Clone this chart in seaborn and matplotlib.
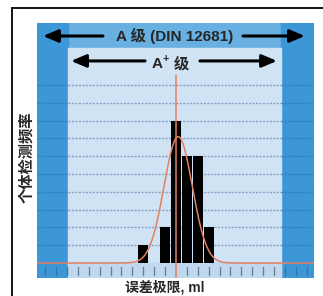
import numpy as np
import pandas as pd
import matplotlib
matplotlib.use('Agg')
import matplotlib.pyplot as plt
from matplotlib.patches import Rectangle
import seaborn as sns

# dados
bin_pos = [-3, -2, -1, 0, 1, 2, 3]
counts = [1, 0, 2, 8, 6, 6, 2]
fit_mean, fit_sd, fit_peak = 0.2, 1.3, 7.1
grid_levels = list(range(1, 11))
tick_pos = [i for i in range(-9, 10) if i != 0]

title_a = 'A 级 (DIN 12681)'
title_ap = r'$\mathbf{A}^{\mathbf{+}}$'
title_ap_cjk = '级'
ylabel = '个体检测频率'
xlabel = '误差极限, ml'

sns.set_style('white')
plt.rcParams['font.family'] = ['Liberation Sans', 'Noto Sans CJK SC']
plt.rcParams['mathtext.fontset'] = 'custom'
plt.rcParams['mathtext.rm'] = 'Liberation Sans:bold'
plt.rcParams['mathtext.bf'] = 'Liberation Sans:bold'

W, H = 323, 296
fig = plt.figure(figsize=(W / 100, H / 100), dpi=100)
# area azul: x 37..314 px, y 23..278 px
ax = fig.add_axes([37 / W, 1 - 278 / H, (314 - 37) / W, (278 - 23) / H])
xmin, xmax = -12.75, 12.66
ymin, ymax = -0.84, 13.48
ax.set_xlim(xmin, xmax)
ax.set_ylim(ymin, ymax)
ax.axis('off')

dark = '#3d96d5'
mid = '#69b0e2'
light = '#d0e3f5'
strip = '#c0d8ee'
in_l, in_r, in_top = -9.9, 9.6, 12.08

# fundos
ax.add_patch(Rectangle((xmin, ymin), xmax - xmin, ymax - ymin, color=mid, zorder=0))
ax.add_patch(Rectangle((xmin, ymin), in_l - xmin, ymax - ymin, color=dark, zorder=0.5))
ax.add_patch(Rectangle((in_r, ymin), xmax - in_r, ymax - ymin, color=dark, zorder=0.5))
ax.add_patch(Rectangle((in_l, ymin), in_r - in_l, in_top - ymin, color=light, zorder=0.6))
ax.add_patch(Rectangle((in_l, ymin), in_r - in_l, -ymin, color=strip, zorder=0.7))

# grade pontilhada
for g in grid_levels:
    ax.plot([in_l, in_r], [g, g], color='#84a2c4', lw=1, ls=(0, (1.5, 1.0)), zorder=1)
    ax.plot([xmin, in_l], [g, g], color='#2f7fbf', lw=1, ls=(0, (1.5, 1.0)), zorder=1)
    ax.plot([in_r, xmax], [g, g], color='#2f7fbf', lw=1, ls=(0, (1.5, 1.0)), zorder=1)

# marcas no eixo inferior
for t in tick_pos:
    ax.plot([t, t], [-0.65, -0.2], color='#6a7f96', lw=1, zorder=1)
for t in [-12, -11, -10, 10, 11, 12]:
    ax.plot([t, t], [-0.65, -0.2], color='#3575ad', lw=1, zorder=1)

# barras
sns.barplot(x=bin_pos, y=counts, native_scale=True, color='black', width=0.9,
            saturation=1, edgecolor='none', ax=ax, zorder=3)
ax.set_xlim(xmin, xmax)
ax.set_ylim(ymin, ymax)

# curva normal ajustada
xs = np.linspace(xmin, xmax, 400)
curve = pd.DataFrame({'x': xs, 'y': fit_peak * np.exp(-0.5 * ((xs - fit_mean) / fit_sd) ** 2)})
sns.lineplot(data=curve, x='x', y='y', color='#e3805f', lw=1.1, ax=ax, zorder=4)
ax.plot([0, 0], [ymin, 10.56], color='#e3805f', lw=1.1, zorder=4)
ax.set_xlim(xmin, xmax)
ax.set_ylim(ymin, ymax)

# setas e textos
arrow = dict(arrowstyle='-|>,head_length=0.9,head_width=0.38', color='black', lw=2.2,
             shrinkA=0, shrinkB=0)
ya = 12.75
ax.text(-0.1, ya, title_a, ha='center', va='center', fontsize=11, fontweight='bold', zorder=5)
ax.annotate('', xy=(-12.2, ya), xytext=(-6.7, ya), arrowprops=arrow, zorder=5)
ax.annotate('', xy=(11.83, ya), xytext=(6.15, ya), arrowprops=arrow, zorder=5)
yb = 11.35
ax.text(-0.55, yb - 0.4, title_ap, ha='right', va='baseline', fontsize=11, zorder=5)
ax.text(-0.2, yb - 0.4, title_ap_cjk, ha='left', va='baseline', fontsize=11, fontweight='bold', zorder=5)
ax.annotate('', xy=(-9.63, yb), xytext=(-2.84, yb), arrowprops=arrow, zorder=5)
ax.annotate('', xy=(9.27, yb), xytext=(2.2, yb), arrowprops=arrow, zorder=5)

fig.text(27 / W, 1 - 157 / H, ylabel, rotation=90, ha='center', va='center',
         fontsize=11, fontweight='bold')
fig.text(165 / W, 1 - 287 / H, xlabel, ha='center', va='center',
         fontsize=10, fontweight='bold')

# moldura
fig.add_artist(plt.Line2D([12 / W, 1], [1 - 8 / H, 1 - 8 / H], color='black', lw=1.3))
fig.add_artist(plt.Line2D([12 / W, 12 / W], [0, 1 - 8 / H], color='black', lw=1.3))

fig.savefig('out.png', dpi=100)
